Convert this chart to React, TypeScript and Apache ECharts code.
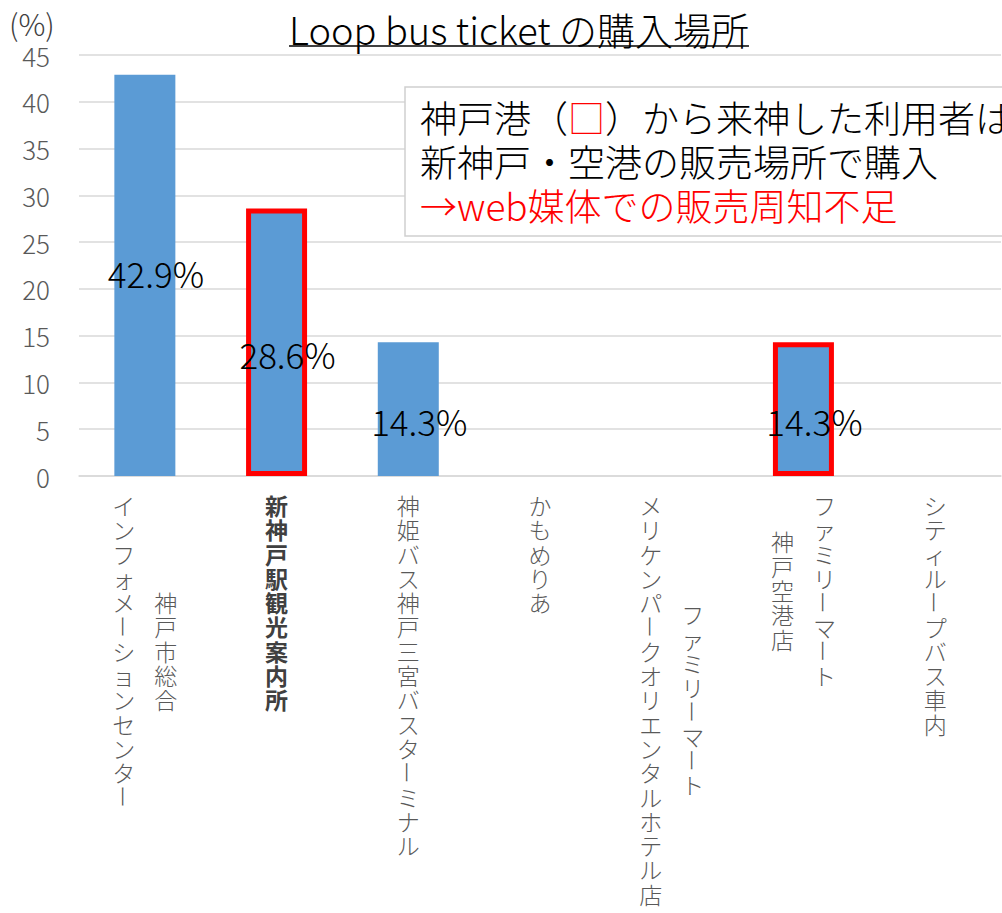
import React, { useEffect, useRef } from "react";
import * as echarts from "echarts";

const FONT = '"Noto Sans CJK JP", "Noto Sans", sans-serif';

const titleText = "Loop bus ticket の購入場所";
const unitText = "(%)";

const categories = [
  "神戸市総合インフォメーションセンター",
  "新神戸駅観光案内所",
  "神姫バス神戸三宮バスターミナル",
  "かもめりあ",
  "ファミリーマート メリケンパークオリエンタルホテル店",
  "ファミリーマート 神戸空港店",
  "シティループバス車内",
];

// vertical label columns; first column is the rightmost (vertical writing)
const labelColumns = [
  ["神戸市総合", "インフォメーションセンター"],
  ["新神戸駅観光案内所"],
  ["神姫バス神戸三宮バスターミナル"],
  ["かもめりあ"],
  ["ファミリーマート", "メリケンパークオリエンタルホテル店"],
  ["ファミリーマート", "神戸空港店"],
  ["シティループバス車内"],
];

const values = [42.9, 28.6, 14.3, 0, 0, 14.3, 0];
const highlighted = [false, true, false, false, false, true, false];
const boldLabel = [false, true, false, false, false, false, false];

const yMin = 0;
const yMax = 45;
const yInterval = 5;

const noteLine1a = "神戸港（";
const noteLine1b = "□";
const noteLine1c = "）から来神した利用者は";
const noteLine2 = "新神戸・空港の販売場所で購入";
const noteLine3 = "→web媒体での販売周知不足";

const PITCH = 24.3;

export default function App() {
  const ref = useRef<HTMLDivElement>(null);

  useEffect(() => {
    document.body.style.margin = "0";
    if (!ref.current) return;
    const chart = echarts.init(ref.current, null, { renderer: "svg" });

    const titleSize = 38;
    const canvas = document.createElement("canvas");
    const ctx = canvas.getContext("2d");
    let titleW = 458;
    if (ctx) {
      ctx.font = `300 ${titleSize}px ${FONT}`;
      titleW = ctx.measureText(titleText).width;
    }
    const titleCx = 519;

    const option: any = {
      animation: false,
      grid: { left: 79, right: 1, top: 55, bottom: 437, containLabel: false },
      xAxis: {
        type: "category",
        data: categories,
        axisTick: { show: false },
        axisLabel: { show: false },
        axisLine: { lineStyle: { color: "#D9D9D9", width: 1.5 } },
      },
      yAxis: {
        type: "value",
        min: yMin,
        max: yMax,
        interval: yInterval,
        axisLine: { show: false },
        axisTick: { show: false },
        axisLabel: {
          color: "#595959",
          fontSize: 26,
          fontWeight: 300,
          fontFamily: FONT,
          margin: 29,
        },
        splitLine: { lineStyle: { color: "#D9D9D9", width: 1.5 } },
      },
      series: [
        {
          type: "bar",
          barWidth: 61,
          itemStyle: { color: "#5B9BD5" },
          label: {
            show: true,
            position: "inside",
            color: "#000",
            fontSize: 35,
            fontWeight: 300,
            fontFamily: FONT,
            textBorderWidth: 0,
            formatter: (p: any) => (p.value ? Number(p.value).toFixed(1) + "%" : ""),
          },
          data: values.map((v, i) => ({
            value: v,
            itemStyle: highlighted[i]
              ? { color: "#5B9BD5", borderColor: "#FF0000", borderWidth: 5 }
              : { color: "#5B9BD5" },
            label: { offset: [11, i === 0 ? -3 : 11] },
          })),
        },
        {
          type: "custom",
          silent: true,
          clip: false,
          data: values.map((_, i) => [i, 0]),
          renderItem: (params: any, api: any) => {
            const i = params.dataIndex;
            const pt = api.coord([i, 0]);
            const cols = labelColumns[i];
            const maxLen = Math.max(...cols.map((c) => Array.from(c).length));
            const children: any[] = [];
            const fill = boldLabel[i] ? "#404040" : "#595959";
            const weight = boldLabel[i] ? "bold" : 300;
            cols.forEach((col, ci) => {
              const chars = Array.from(col);
              const dx = cols.length === 1 ? 0 : ci === 0 ? 21 : -21;
              const startK = (maxLen - chars.length) / 2;
              const top0 = pt[1] + 29 - PITCH / 2;
              // split into runs of ordinary chars; long vowel marks are rotated singly
              let k = 0;
              while (k < chars.length) {
                if (chars[k] === "ー") {
                  children.push({
                    type: "text",
                    x: pt[0] + dx,
                    y: top0 + (startK + k + 0.5) * PITCH,
                    rotation: -Math.PI / 2,
                    style: {
                      text: "ー",
                      fill,
                      fontSize: 23,
                      fontFamily: FONT,
                      fontWeight: weight,
                      align: "center",
                      verticalAlign: "middle",
                      lineHeight: 22,
                    },
                  });
                  k += 1;
                } else {
                  let e = k;
                  while (e < chars.length && chars[e] !== "ー") e++;
                  children.push({
                    type: "text",
                    x: pt[0] + dx,
                    y: top0 + (startK + k) * PITCH,
                    style: {
                      text: chars.slice(k, e).join("\n"),
                      fill,
                      fontSize: 23,
                      fontFamily: FONT,
                      fontWeight: weight,
                      align: "center",
                      verticalAlign: "top",
                      lineHeight: PITCH,
                    },
                  });
                  k = e;
                }
              }
            });
            return { type: "group", children };
          },
        },
      ],
      graphic: [
        {
          type: "text",
          z: 100,
          x: 9,
          y: 23,
          style: {
            text: unitText,
            fill: "#404040",
            fontSize: 30,
            fontWeight: 300,
            fontFamily: FONT,
            align: "left",
            verticalAlign: "middle",
          },
        },
        {
          type: "text",
          z: 100,
          x: titleCx,
          y: 28,
          style: {
            text: titleText,
            fill: "#000",
            fontSize: titleSize,
            fontWeight: 300,
            fontFamily: FONT,
            align: "center",
            verticalAlign: "middle",
          },
        },
        {
          type: "line",
          z: 100,
          shape: { x1: titleCx - titleW / 2, y1: 46, x2: titleCx + titleW / 2, y2: 46 },
          style: { stroke: "#000", lineWidth: 1.5 },
        },
        {
          type: "rect",
          z: 100,
          shape: { x: 405, y: 87, width: 700, height: 149 },
          style: { fill: "#fff", stroke: "#D0D0D0", lineWidth: 1.5 },
        },
        {
          type: "text",
          z: 101,
          x: 420,
          y: 95,
          style: {
            text:
              `{k|${noteLine1a}}{r|${noteLine1b}}{k|${noteLine1c}}\n` +
              `{k|${noteLine2}}\n{r|${noteLine3}}`,
            fontSize: 37,
            fontWeight: 300,
            fontFamily: FONT,
            lineHeight: 44,
            fill: "#000",
            align: "left",
            verticalAlign: "top",
            rich: {
              k: { fill: "#000", fontSize: 37, fontWeight: 300, fontFamily: FONT, lineHeight: 44 },
              r: { fill: "#FF0000", fontSize: 37, fontWeight: 300, fontFamily: FONT, lineHeight: 44 },
            },
          },
        },
      ],
    };

    chart.setOption(option);
    return () => chart.dispose();
  }, []);

  return (
    <div
      ref={ref}
      style={{ position: "absolute", left: 0, top: 0, width: 1002, height: 913 }}
    />
  );
}
